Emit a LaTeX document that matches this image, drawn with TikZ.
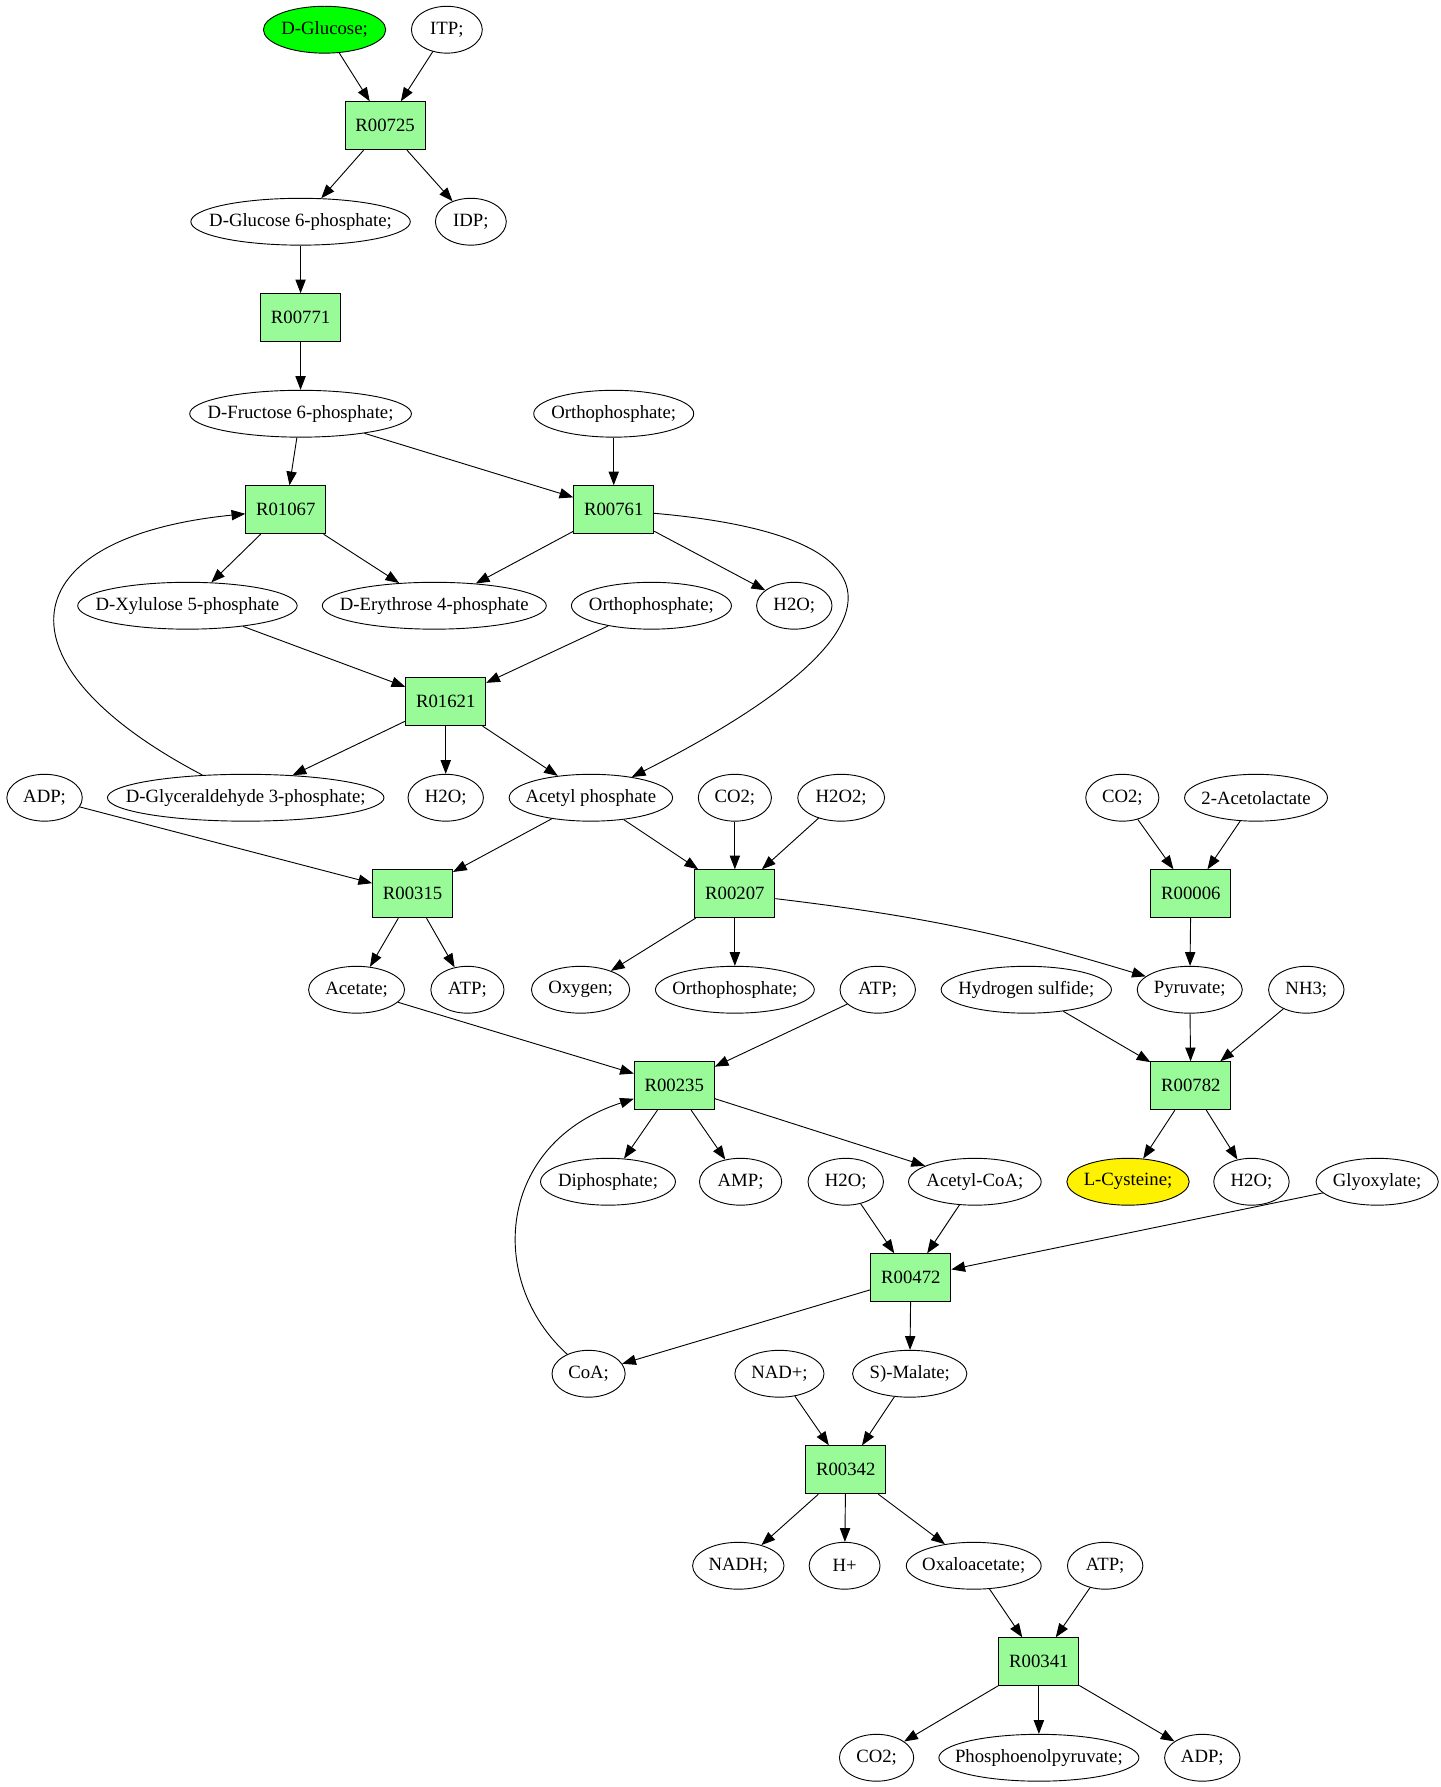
\documentclass[tikz,border=0pt]{standalone}
\usepackage{fontspec}
\setmainfont{Liberation Serif}
\usetikzlibrary{%
    arrows.meta,
    shapes.geometric
}
\definecolor{palegreen}{RGB}{152,251,152}
\tikzset{headarrow/.style = {-{Triangle[length=12pt,width=9pt]}}}
\tikzset{
    compound/.style = {draw, ellipse, inner sep=0pt, minimum height=41pt,
        execute at begin node={\hbox to 0pt\bgroup\hss},
        execute at end node={\hss\egroup}},
    reaction/.style = {draw, rectangle, fill=palegreen, inner sep=0pt,
        minimum width=70pt, minimum height=42pt}
}

\begin{document}
\begin{tikzpicture}[x=1pt, y=-1pt, line width=0.8pt,
    every node/.style={font=\fontsize{16.4}{19}\selectfont}]
    \useasboundingbox (0,0) rectangle (1260,1563.6);

    \node[compound,fill=green,minimum width=107pt] (glc) at (284,26) {D-Glucose;};
    \node[compound,minimum width=62pt] (itp) at (391,26) {ITP;};
    \node[reaction] (r00725) at (337,110) {R00725};
    \node[compound,minimum width=192pt] (g6p) at (263,194) {D-Glucose 6-phosphate;};
    \node[compound,minimum width=62pt] (idp) at (412,194) {IDP;};
    \node[reaction] (r00771) at (263,278) {R00771};
    \node[compound,minimum width=194pt] (f6p) at (263,362) {D-Fructose 6-phosphate;};
    \node[compound,minimum width=140pt] (pia) at (537,362) {Orthophosphate;};
    \node[reaction] (r01067) at (250,446) {R01067};
    \node[reaction] (r00761) at (537,446) {R00761};
    \node[compound,minimum width=192pt] (xu5p) at (164,530) {D-Xylulose 5-phosphate};
    \node[compound,minimum width=196pt] (e4p) at (380,530) {D-Erythrose 4-phosphate};
    \node[compound,minimum width=140pt] (pib) at (570,530) {Orthophosphate;};
    \node[compound,minimum width=66pt] (h2oa) at (695,530) {H2O;};
    \node[reaction] (r01621) at (390,614) {R01621};
    \node[compound,minimum width=66pt] (adpa) at (39,698) {ADP;};
    \node[compound,minimum width=242pt] (gap) at (215,698) {D-Glyceraldehyde 3-phosphate;};
    \node[compound,minimum width=66pt] (h2ob) at (390,698) {H2O;};
    \node[compound,minimum width=143pt] (acp) at (517,698) {Acetyl phosphate};
    \node[compound,minimum width=64pt] (co2a) at (643,698) {CO2;};
    \node[compound,minimum width=76pt] (h2o2) at (736,698) {H2O2;};
    \node[compound,minimum width=64pt] (co2b) at (982,698) {CO2;};
    \node[compound,minimum width=125pt] (acl) at (1099,698) {2-Acetolactate};
    \node[reaction] (r00315) at (361,782) {R00315};
    \node[reaction] (r00207) at (643,782) {R00207};
    \node[reaction] (r00006) at (1042,782) {R00006};
    \node[compound,minimum width=84pt] (ac) at (312,866) {Acetate;};
    \node[compound,minimum width=64pt] (atpa) at (409,866) {ATP;};
    \node[compound,minimum width=86pt] (oxy) at (508,866) {Oxygen;};
    \node[compound,minimum width=139pt] (pic) at (643,866) {Orthophosphate;};
    \node[compound,minimum width=66pt] (atpb) at (768,866) {ATP;};
    \node[compound,minimum width=149pt] (hs) at (898,866) {Hydrogen sulfide;};
    \node[compound,minimum width=92pt] (pyr) at (1041,866) {Pyruvate;};
    \node[compound,minimum width=66pt] (nh3) at (1143,866) {NH3;};
    \node[reaction] (r00235) at (590,950) {R00235};
    \node[reaction] (r00782) at (1042,950) {R00782};
    \node[compound,minimum width=118pt] (ppi) at (532,1034) {Diphosphate;};
    \node[compound,minimum width=72pt] (amp) at (648,1034) {AMP;};
    \node[compound,minimum width=66pt] (h2oc) at (740,1034) {H2O;};
    \node[compound,minimum width=116pt] (accoa) at (853,1034) {Acetyl-CoA;};
    \node[compound,fill=yellow,minimum width=107pt] (cys) at (987,1034) {L-Cysteine;};
    \node[compound,minimum width=66pt] (h2od) at (1095,1034) {H2O;};
    \node[compound,minimum width=107pt] (glx) at (1205,1034) {Glyoxylate;};
    \node[reaction] (r00472) at (797,1118) {R00472};
    \node[compound,minimum width=64pt] (coa) at (515,1202) {CoA;};
    \node[compound,minimum width=78pt] (nad) at (682,1202) {NAD+;};
    \node[compound,minimum width=100pt] (mal) at (796,1202) {S)-Malate;};
    \node[reaction] (r00342) at (740,1286) {R00342};
    \node[compound,minimum width=80pt] (nadh) at (646,1370) {NADH;};
    \node[compound,minimum width=62pt] (hplus) at (739,1370) {H+};
    \node[compound,minimum width=118pt] (oaa) at (852,1370) {Oxaloacetate;};
    \node[compound,minimum width=66pt] (atpc) at (967,1370) {ATP;};
    \node[reaction] (r00341) at (909,1454) {R00341};
    \node[compound,minimum width=65pt] (co2c) at (767,1538) {CO2;};
    \node[compound,minimum width=175pt] (pep) at (909,1538) {Phosphoenolpyruvate;};
    \node[compound,minimum width=66pt] (adpb) at (1052,1538) {ADP;};

    \foreach \from/\to in {%
        glc/r00725, itp/r00725, r00725/g6p, r00725/idp,
        g6p/r00771, r00771/f6p,
        f6p/r01067, f6p/r00761, pia/r00761,
        r01067/xu5p, r01067/e4p, r00761/e4p, r00761/h2oa,
        xu5p/r01621, pib/r01621,
        r01621/gap, r01621/h2ob, r01621/acp,
        adpa/r00315, acp/r00315, acp/r00207, co2a/r00207, h2o2/r00207,
        co2b/r00006, acl/r00006,
        r00315/ac, r00315/atpa, r00207/oxy, r00207/pic, r00006/pyr,
        ac/r00235, atpb/r00235, hs/r00782, pyr/r00782, nh3/r00782,
        r00235/ppi, r00235/amp, r00235/accoa, r00782/cys, r00782/h2od,
        h2oc/r00472, accoa/r00472, glx/r00472,
        r00472/coa, r00472/mal,
        nad/r00342, mal/r00342,
        r00342/nadh, r00342/hplus, r00342/oaa,
        oaa/r00341, atpc/r00341,
        r00341/co2c, r00341/pep, r00341/adpb%
        }
    \draw[headarrow] (\from) -- (\to);

    \draw[headarrow] (gap) .. controls (-10,580) and (10,470) .. (r01067);
    \draw[headarrow] (r00761) .. controls (810,470) and (790,560) .. (acp);
    \draw[headarrow] (r00207) to[bend left=5] (pyr);
    \draw[headarrow] (coa) .. controls (425,1120) and (435,1000) .. (r00235);
\end{tikzpicture}
\end{document}
